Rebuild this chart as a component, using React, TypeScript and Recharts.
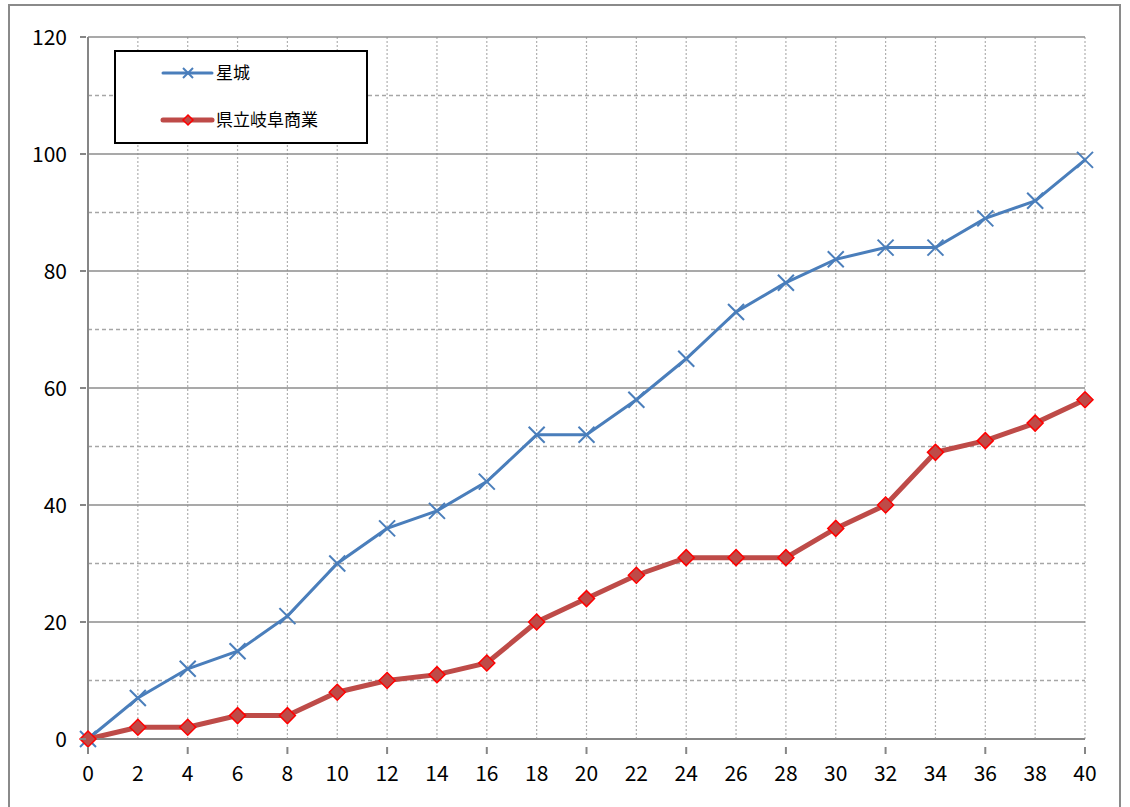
import React from "react";
import { LineChart, Line, XAxis, YAxis, ReferenceLine, Legend } from "recharts";

const rounds = [0, 2, 4, 6, 8, 10, 12, 14, 16, 18, 20, 22, 24, 26, 28, 30, 32, 34, 36, 38, 40];
const seijo = [0, 7, 12, 15, 21, 30, 36, 39, 44, 52, 52, 58, 65, 73, 78, 82, 84, 84, 89, 92, 99];
const gifuShogyo = [0, 2, 2, 4, 4, 8, 10, 11, 13, 20, 24, 28, 31, 31, 31, 36, 40, 49, 51, 54, 58];

const yTicks = [0, 20, 40, 60, 80, 100, 120];
const yMinor = [10, 30, 50, 70, 90, 110];
const yMajor = [20, 40, 60, 80, 100, 120];
const xGrid = [2, 4, 6, 8, 10, 12, 14, 16, 18, 20, 22, 24, 26, 28, 30, 32, 34, 36, 38, 40];

const seriesNames = ["星城", "県立岐阜商業"];

const BLUE = "#4a7ebb";
const RED = "#be4b48";
const FONT = "'Noto Sans CJK JP', 'Noto Sans', sans-serif";

const data = rounds.map((r, i) => ({ round: r, a: seijo[i], b: gifuShogyo[i] }));

function Cross({ cx, cy, size = 8 }: any) {
  if (cx == null || cy == null) return null;
  return (
    <g>
      <line x1={cx - size} y1={cy - size} x2={cx + size} y2={cy + size} stroke={BLUE} strokeWidth={2} />
      <line x1={cx - size} y1={cy + size} x2={cx + size} y2={cy - size} stroke={BLUE} strokeWidth={2} />
    </g>
  );
}

function Diamond({ cx, cy, size = 8 }: any) {
  if (cx == null || cy == null) return null;
  return (
    <polygon
      points={`${cx},${cy - size} ${cx + size},${cy} ${cx},${cy + size} ${cx - size},${cy}`}
      fill={RED}
      stroke="#ff0000"
      strokeWidth={1.5}
    />
  );
}

function XTick({ x, y, payload }: any) {
  const v = payload.value;
  return (
    <g>
      {v % 4 === 0 && <line x1={x} y1={y} x2={x} y2={y + 7} stroke="#868686" strokeWidth={2} />}
      <text x={x} y={y + 34} textAnchor="middle" fontSize={21} fontFamily={FONT} fill="#000">
        {v}
      </text>
    </g>
  );
}

function YTick({ x, y, payload }: any) {
  return (
    <g>
      <line x1={x} y1={y} x2={x + 6} y2={y} stroke="#868686" strokeWidth={2} />
      <text x={x - 13} y={y + 8} textAnchor="end" fontSize={21} fontFamily={FONT} fill="#000">
        {payload.value}
      </text>
    </g>
  );
}

function LegendBox() {
  return (
    <div
      style={{
        width: 254,
        height: 94,
        boxSizing: "border-box",
        border: "2px solid #000",
        background: "#fff",
        position: "relative",
      }}
    >
      <svg width={250} height={90} style={{ position: "absolute", left: 0, top: 0 }}>
        <line x1={47} y1={21} x2={96} y2={21} stroke={BLUE} strokeWidth={3} strokeLinecap="round" />
        <Cross cx={72} cy={21} size={5} />
        <text x={100} y={27} fontSize={17} fontFamily={FONT} fill="#000">
          {seriesNames[0]}
        </text>
        <line x1={47} y1={68} x2={96} y2={68} stroke={RED} strokeWidth={5} strokeLinecap="round" />
        <Diamond cx={72} cy={68} size={5} />
        <text x={100} y={74} fontSize={17} fontFamily={FONT} fill="#000">
          {seriesNames[1]}
        </text>
      </svg>
    </div>
  );
}

export default function App() {
  return (
    <div
      style={{
        position: "absolute",
        left: 0,
        top: 0,
        width: 1130,
        height: 807,
        overflow: "hidden",
        background: "#fff",
      }}
    >
      <div
        style={{
          position: "absolute",
          left: 8,
          top: 4,
          width: 1113,
          height: 830,
          boxSizing: "border-box",
          border: "2px solid #8a8a8a",
        }}
      />
      <div style={{ position: "absolute", left: 0, top: 0 }}>
        <LineChart width={1130} height={807} data={data} margin={{ top: 37, right: 45, left: 0, bottom: 0 }}>
          <XAxis
            dataKey="round"
            type="number"
            domain={[0, 40]}
            ticks={rounds}
            interval={0}
            height={68}
            axisLine={{ stroke: "#868686", strokeWidth: 2 }}
            tickLine={false}
            tick={<XTick />}
          />
          <YAxis
            type="number"
            domain={[0, 120]}
            ticks={yTicks}
            interval={0}
            width={88}
            axisLine={{ stroke: "#868686", strokeWidth: 2 }}
            tickLine={false}
            tickSize={6}
            tick={<YTick />}
          />
          {xGrid.map((v) => (
            <ReferenceLine key={"x" + v} x={v} stroke="#b0b0b0" strokeWidth={1.2} strokeDasharray="2 2" />
          ))}
          {yMinor.map((v) => (
            <ReferenceLine key={"m" + v} y={v} stroke="#a6a6a6" strokeWidth={1.5} strokeDasharray="4 3" />
          ))}
          {yMajor.map((v) => (
            <ReferenceLine key={"M" + v} y={v} stroke="#8c8c8c" strokeWidth={1.5} />
          ))}
          <Legend
            layout="vertical"
            align="center"
            verticalAlign="middle"
            content={() => <LegendBox />}
            wrapperStyle={{ left: 114, top: 50, width: 254, height: 94 }}
          />
          <Line
            dataKey="a"
            name={seriesNames[0]}
            stroke={BLUE}
            strokeWidth={3}
            dot={<Cross />}
            activeDot={false}
            isAnimationActive={false}
          />
          <Line
            dataKey="b"
            name={seriesNames[1]}
            stroke={RED}
            strokeWidth={5}
            dot={<Diamond />}
            activeDot={false}
            isAnimationActive={false}
          />
        </LineChart>
      </div>
    </div>
  );
}
